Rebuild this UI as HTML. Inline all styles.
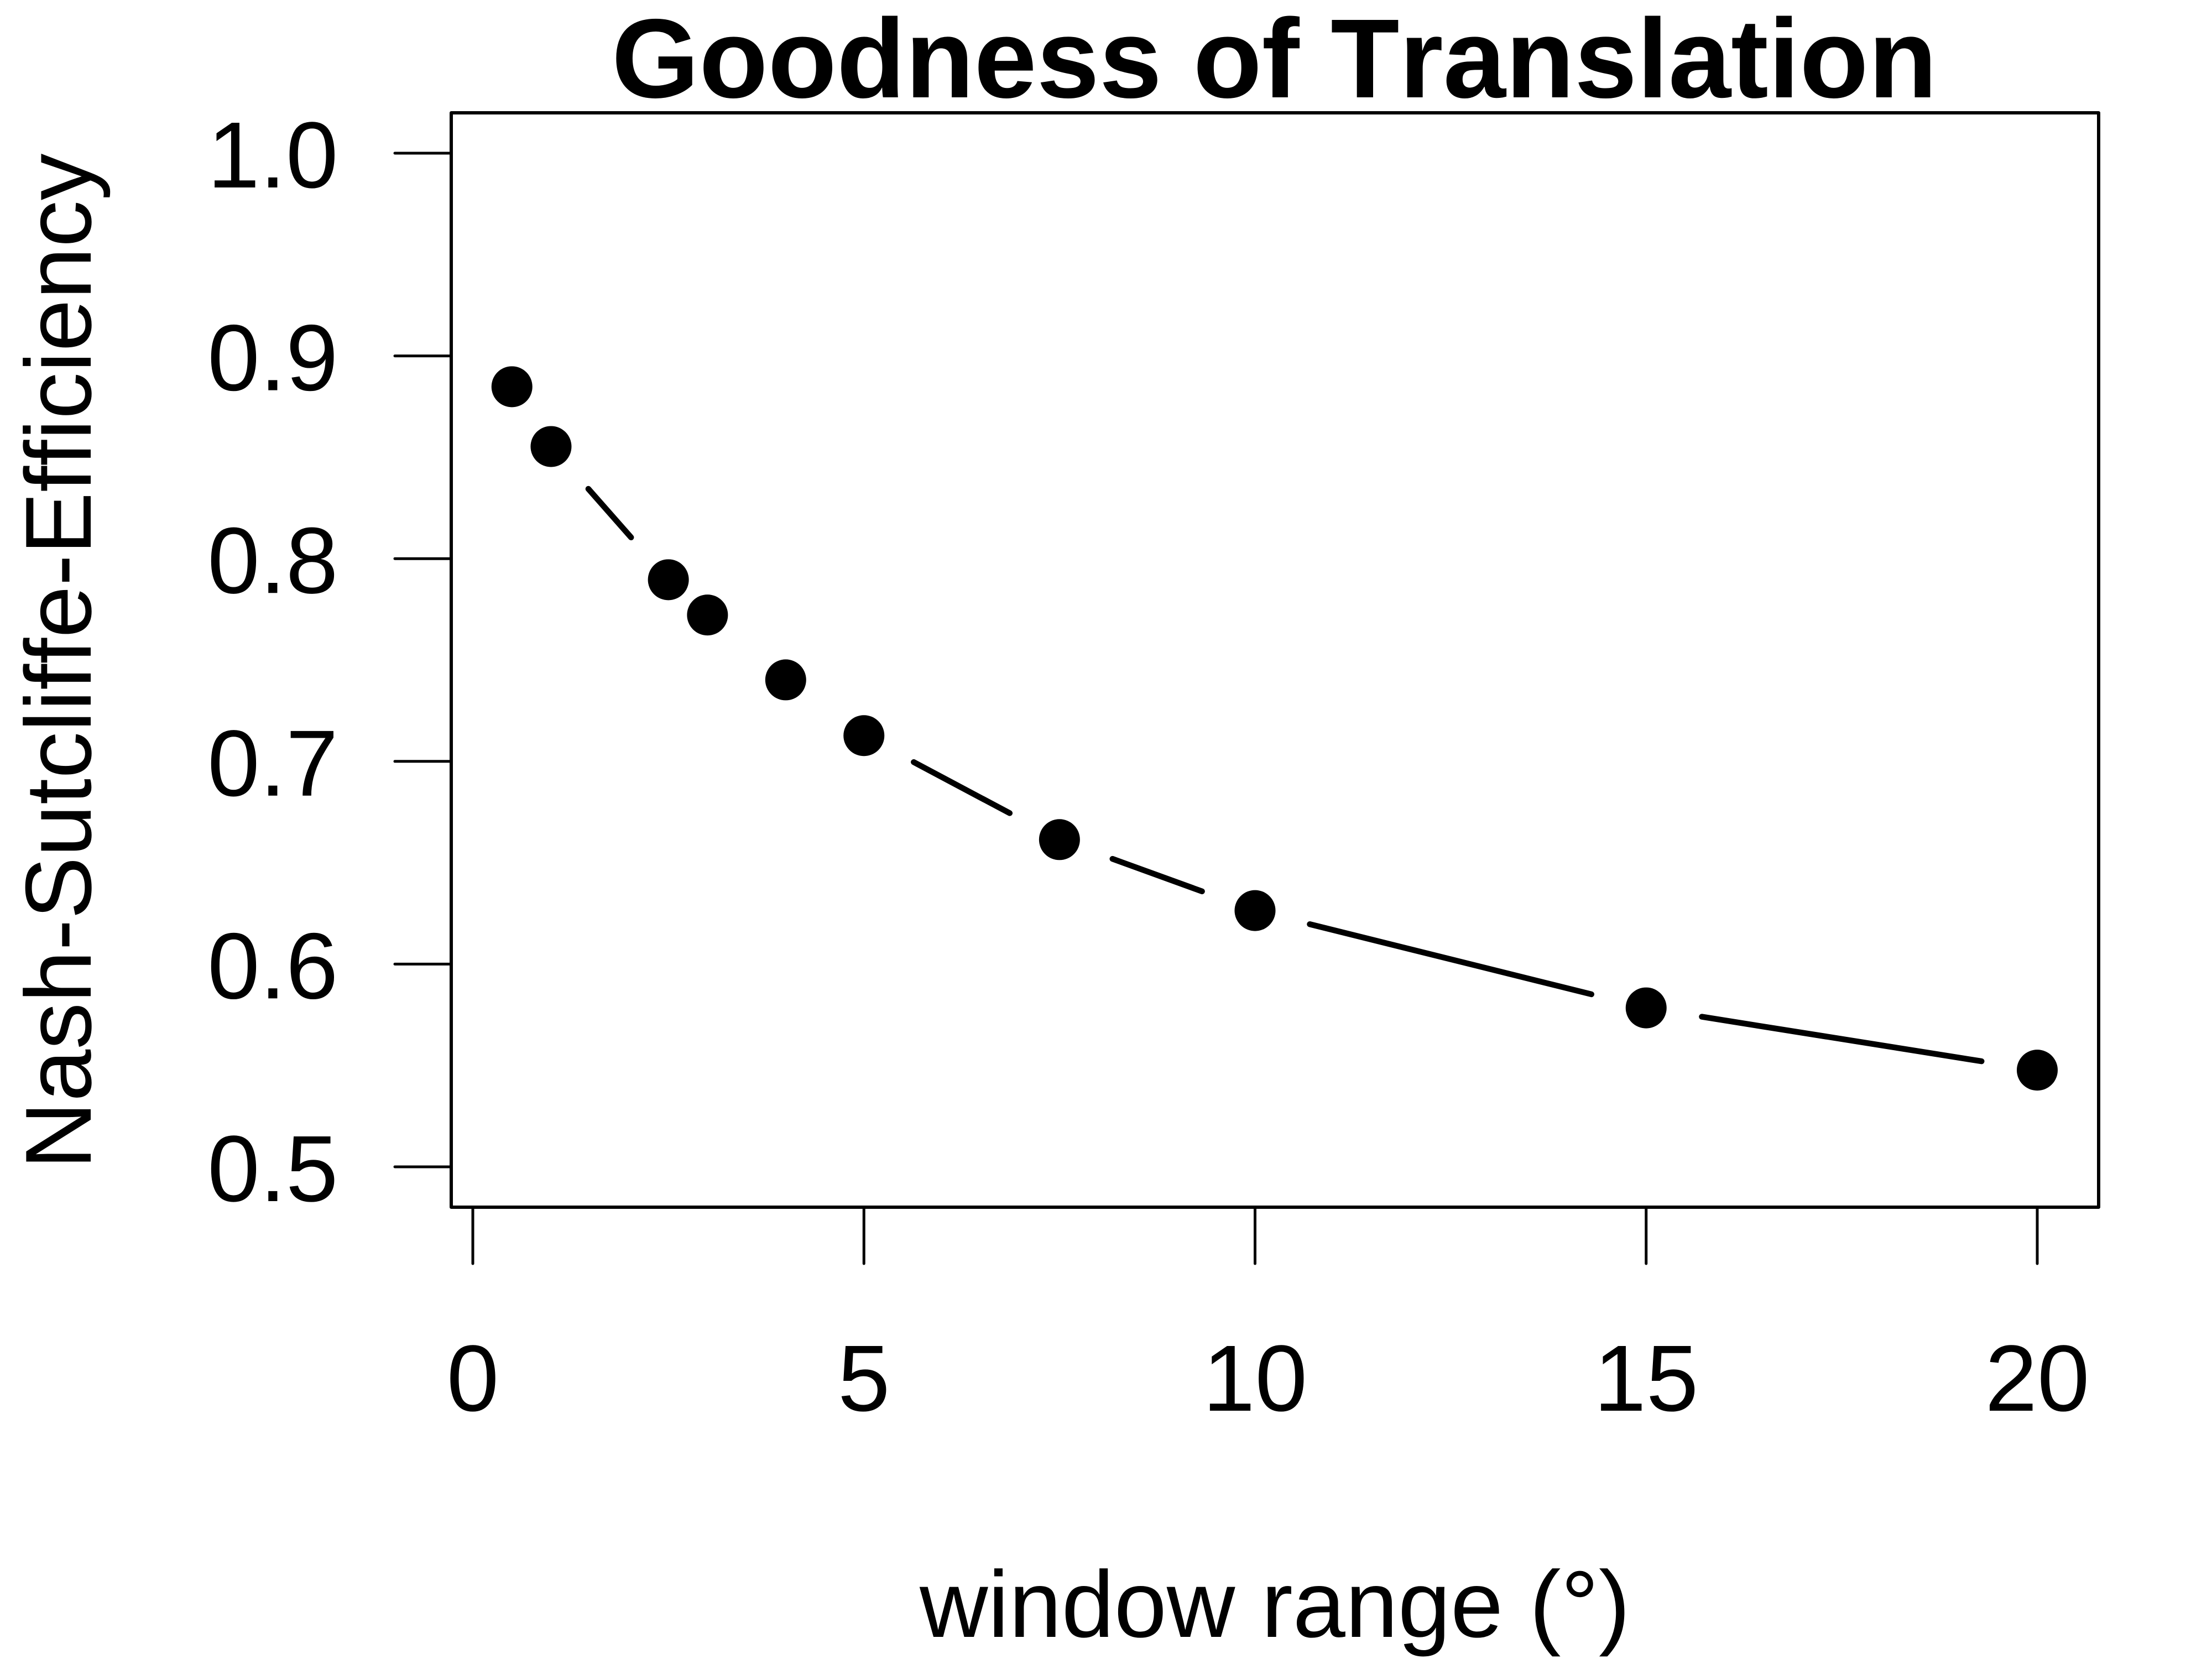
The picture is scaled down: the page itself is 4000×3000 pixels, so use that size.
<!DOCTYPE html>
<html lang="en">
<head>
<meta charset="utf-8">
<title>Goodness of Translation</title>
<style>
html,body{margin:0;padding:0;background:#fff;width:4000px;height:3000px;overflow:hidden}
svg{display:block}
text{font-family:"Liberation Sans",Arial,sans-serif;fill:#000;font-kerning:none;font-variant-ligatures:none}
</style>
</head>
<body>
<svg id="chart" xmlns="http://www.w3.org/2000/svg" width="4000" height="3000" viewBox="0 0 4000 3000">
  <rect x="0" y="0" width="4000" height="3000" fill="#fff"/>
  <text x="2304.5" y="176" font-size="203.5" font-weight="700" text-anchor="middle">Goodness of Translation</text>
  <text x="2305.5" y="2960" font-size="171" text-anchor="middle">window range (°)</text>
  <text transform="translate(164 1196) rotate(-90)" font-size="169.5" text-anchor="middle">Nash-Sutcliffe-Efficiency</text>
  <rect x="816" y="204" width="2979" height="1979" fill="none" stroke="#000" stroke-width="6" stroke-linejoin="round"/>
  <g id="x-axis"></g>
  <g id="y-axis"></g>
  <g id="series"></g>
</svg>
<script>
const windowRange = [0.5, 1, 2.5, 3, 4, 5, 7.5, 10, 15, 20];
const nseValues = [0.8848, 0.8553, 0.7896, 0.7722, 0.7402, 0.7127, 0.6614, 0.6264, 0.5784, 0.5477];
const xTicks = [0, 5, 10, 15, 20];
const xTickLabels = ['0', '5', '10', '15', '20'];
const yTicks = [0.5, 0.6, 0.7, 0.8, 0.9, 1.0];
const yTickLabels = ['0.5', '0.6', '0.7', '0.8', '0.9', '1.0'];

const NS = 'http://www.w3.org/2000/svg';
const xScale = v => 855 + (v - 0) * (3684 - 855) / 20;
const yScale = v => 2110 - (v - 0.5) * (2110 - 277) / 0.5;
const GAP = 102;
const DOT_RADIUS = 37;
const BOX_BOTTOM = 2183;
const BOX_LEFT = 816;
const TICK_LENGTH = 102;

function make(tag, attrs, parent) {
  const el = document.createElementNS(NS, tag);
  for (const k in attrs) el.setAttribute(k, attrs[k]);
  parent.appendChild(el);
  return el;
}

const xAxis = document.getElementById('x-axis');
xTicks.forEach((t, i) => {
  const x = xScale(t);
  const tick = make('line', {x1: x, x2: x, y1: BOX_BOTTOM, y2: BOX_BOTTOM + TICK_LENGTH, stroke: '#000', 'stroke-width': 5, 'stroke-linecap': 'round'}, xAxis);
  
  
  const label = make('text', {x: x, y: 2551, 'font-size': 170, 'text-anchor': 'middle'}, xAxis);
  label.textContent = xTickLabels[i];
  
  
});

const yAxis = document.getElementById('y-axis');
yTicks.forEach((t, i) => {
  const y = yScale(t);
  const tick = make('line', {x1: BOX_LEFT - TICK_LENGTH, x2: BOX_LEFT, y1: y, y2: y, stroke: '#000', 'stroke-width': 5, 'stroke-linecap': 'round'}, yAxis);
  
  
  const label = make('text', {x: 611.5, y: y + 62, 'font-size': 170, 'text-anchor': 'end'}, yAxis);
  label.textContent = yTickLabels[i];
  
  
});

const series = document.getElementById('series');
windowRange.forEach((w, i) => {
  const cx = xScale(w);
  const cy = yScale(nseValues[i]);
  if (i < windowRange.length - 1) {
    const nx = xScale(windowRange[i + 1]);
    const ny = yScale(nseValues[i + 1]);
    const dist = Math.hypot(nx - cx, ny - cy);
    if (dist > 2 * GAP) {
      const ux = (nx - cx) / dist;
      const uy = (ny - cy) / dist;
      const seg = make('line', {x1: cx + ux * GAP, y1: cy + uy * GAP, x2: nx - ux * GAP, y2: ny - uy * GAP, stroke: '#000', 'stroke-width': 10.5, 'stroke-linecap': 'round'}, series);
      
      
    }
  }
  const dot = make('circle', {cx: cx, cy: cy, r: DOT_RADIUS, fill: '#000'}, series);
  
  
});
</script>
</body>
</html>
